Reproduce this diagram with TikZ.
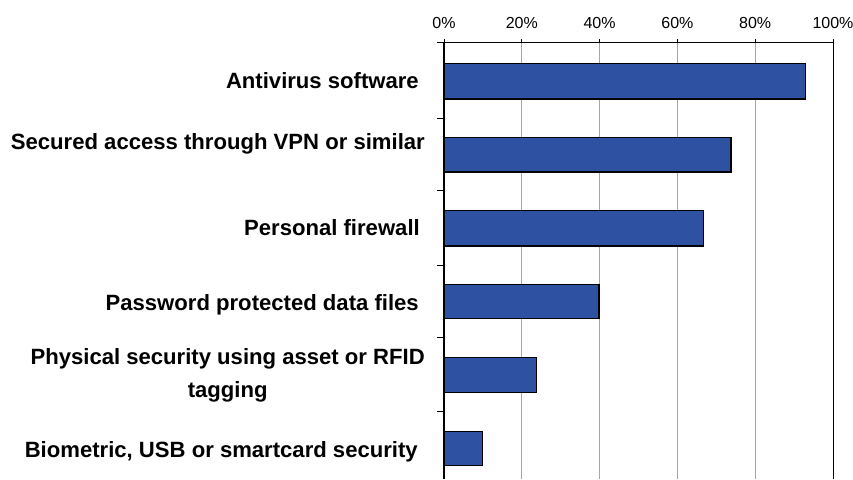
\documentclass[tikz,border=0pt]{standalone}
\usepackage{fontspec}
\setmainfont{Liberation Sans}
\definecolor{barblue}{RGB}{47,81,162}
\definecolor{gridgray}{RGB}{165,165,165}
\begin{document}
\begin{tikzpicture}[x=1pt,y=-1pt,
  bar/.style={draw=black,line width=1.2pt,fill=barblue},
  gridln/.style={draw=gridgray,line width=1.1pt},
  axisln/.style={draw=black,line width=1.5pt},
  tickln/.style={draw=black,line width=1pt},
  cat/.style={font=\bfseries\fontsize{22.1}{33}\selectfont,inner sep=0pt,align=center},
  pct/.style={font=\fontsize{16}{19}\selectfont,inner sep=0pt,anchor=base}]
\useasboundingbox (0,0) rectangle (853,479);
% gridlines
\foreach \gx in {521.8,599.6,677.4,755.2}{
  \draw[gridln] (\gx,42.7) -- (\gx,479);
}
\draw[tickln] (833,42.7) -- (833,479);
% percent labels
\foreach \gx/\lab in {444/0\%,521.8/20\%,599.6/40\%,677.4/60\%,755.2/80\%,833/100\%}{
  \node[pct] at (\gx,28.4) {\lab};
  \draw[tickln] (\gx,39.2) -- (\gx,42.7);
}
% bars
\draw[bar] (444,63.3) rectangle (805.7,99);
\draw[bar] (444,137.3) rectangle (731,172);
\draw[bar] (444,210.3) rectangle (703.7,246);
\draw[bar] (444,284.3) rectangle (599,318.3);
\draw[bar] (444,357.3) rectangle (536.7,392.7);
\draw[bar] (444,431.3) rectangle (482.7,465.3);
% axes
\draw[axisln] (444,42.7) -- (833,42.7);
\draw[axisln] (444,42.7) -- (444,479);
\foreach \ty in {42.7,118.3,190.7,265,337.7,411.7}{
  \draw[tickln] (437,\ty) -- (444,\ty);
}
% category labels
\node[cat,anchor=base east] (l1) at (419,88.3) {Antivirus software};
\node[cat,anchor=base east] (l2) at (425,149) {Secured access through VPN or similar};
\node[cat,anchor=base east] (l3) at (420,235) {Personal firewall};
\node[cat,anchor=base east] (l4) at (419,310) {Password protected data files};
\node[cat,anchor=east] (l5) at (425,375.5) {Physical security using asset or RFID\\tagging};
\node[cat,anchor=base east] (l6) at (418,457) {Biometric, USB or smartcard security};
\end{tikzpicture}
\end{document}
